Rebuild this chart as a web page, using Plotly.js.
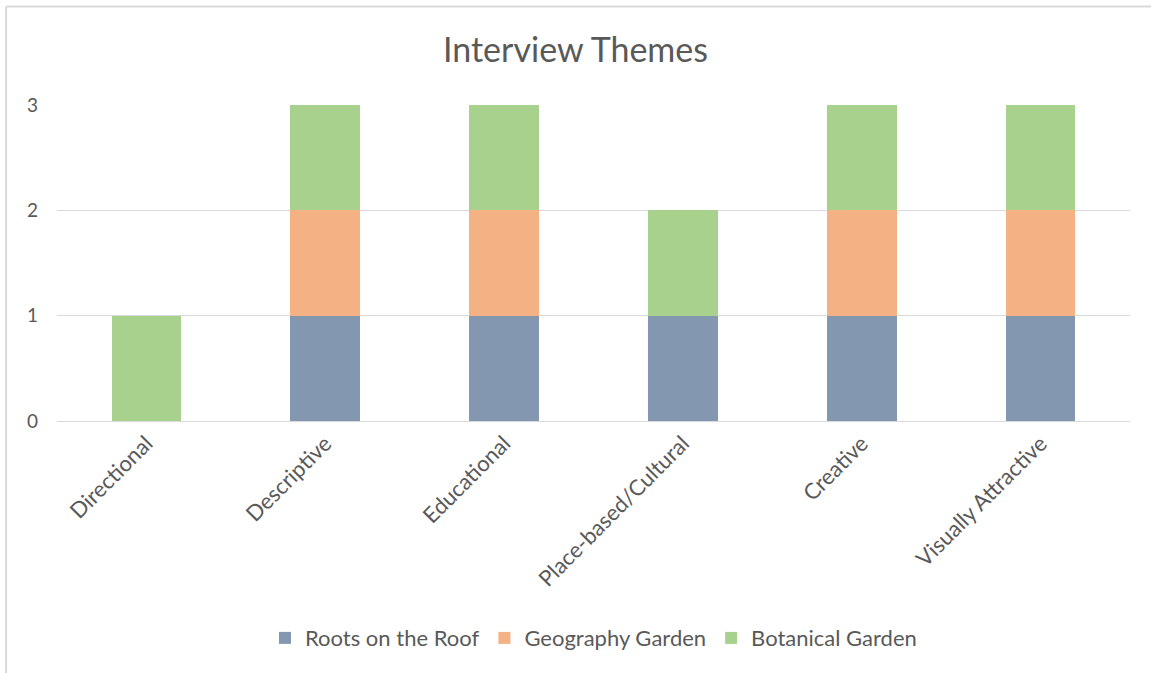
<!DOCTYPE html>
<html>
<head>
<meta charset="utf-8">
<script src="https://cdn.plot.ly/plotly-3.0.1.min.js"></script>
<style>html,body{margin:0;padding:0;background:#fff;}#chart{width:1151px;height:673px;}</style>
</head>
<body>
<div id="chart"></div>
<script>
const categories = ["Directional", "Descriptive", "Educational", "Place-based/Cultural", "Creative", "Visually Attractive"];
const rootsOnTheRoof = [0, 1, 1, 1, 1, 1];
const geographyGarden = [0, 1, 1, 0, 1, 1];
const botanicalGarden = [1, 1, 1, 1, 1, 1];
const seriesNames = ["Roots on the Roof", "Geography Garden", "Botanical Garden"];
const yTicks = [0, 1, 2, 3];

const colors = ["#8497B0", "#F4B183", "#A9D18E"];
const series = [rootsOnTheRoof, geographyGarden, botanicalGarden];
const FONT = "Lato, 'Open Sans', sans-serif";

const traces = series.map((vals, i) => ({
  type: "bar",
  name: seriesNames[i],
  x: categories,
  y: vals,
  marker: {color: colors[i], line: {width: 0}},
  hoverinfo: "x+y+name"
}));

const layout = {
  width: 1151, height: 673,
  barmode: "stack",
  bargap: 0.61,
  paper_bgcolor: "#ffffff",
  plot_bgcolor: "#ffffff",
  margin: {l: 57, r: 21, t: 105, b: 252},
  title: {text: "Interview Themes", font: {family: FONT, size: 34, color: "#595959"}, x: 0.5, xanchor: "center", y: 0.925, yanchor: "middle"},
  font: {family: FONT, color: "#595959"},
  xaxis: {
    type: "category",
    tickangle: -45,
    tickfont: {family: FONT, size: 22, color: "#595959"},
    showgrid: false,
    showline: true, linecolor: "#d9d9d9", linewidth: 1,
    ticks: "", zeroline: false
  },
  yaxis: {
    range: [0, 3],
    tickvals: yTicks,
    tickfont: {family: FONT, size: 19, color: "#595959"},
    showgrid: true, gridcolor: "#d9d9d9", gridwidth: 1,
    zeroline: false, showline: false, ticks: "", ticklen: 0,
    ticklabelstandoff: 18
  },
  legend: {
    orientation: "h", x: 0.5, xanchor: "center", y: -0.687, yanchor: "middle",
    font: {family: FONT, size: 22, color: "#595959"},
    traceorder: "normal",
    itemwidth: 30
  },
  shapes: [
    {type: "line", xref: "paper", yref: "paper", x0: -0.0475, x1: 1.03, y0: 1.312, y1: 1.312, line: {color: "#d9d9d9", width: 2}},
    {type: "line", xref: "paper", yref: "paper", x0: -0.0475, x1: -0.0475, y0: 1.312, y1: -0.8, line: {color: "#d9d9d9", width: 2}}
  ]
};

Plotly.newPlot("chart", traces, layout, {displayModeBar: false, staticPlot: true});
</script>
</body>
</html>
